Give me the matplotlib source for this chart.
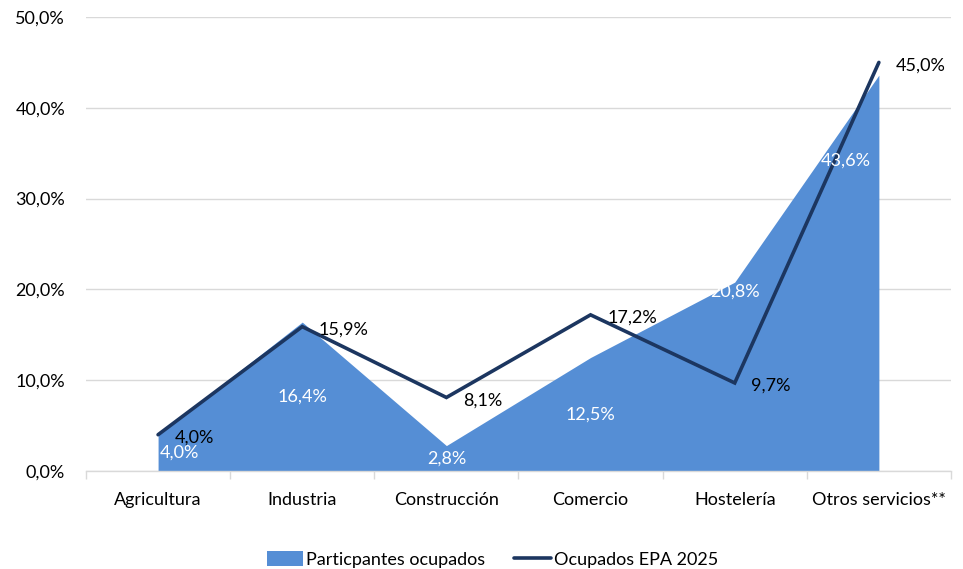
import matplotlib
matplotlib.use("Agg")
from matplotlib import pyplot as plt
from matplotlib.ticker import FuncFormatter, FixedLocator
import numpy as np

categories = ["Agricultura", "Industria", "Construcción", "Comercio", "Hostelería", "Otros servicios**"]
participantes = [4.0, 16.4, 2.8, 12.5, 20.8, 43.6]
epa_2025 = [4.0, 15.9, 8.1, 17.2, 9.7, 45.0]

# where Excel put the white labels inside the area (fraction of value / shift)
area_label_y = [2.0, 8.2, 1.4, 6.25, 19.8, 34.2]
area_label_dx = [0.15, 0, 0, 0, 0, -0.23]

area_color = "#558ED5"
line_color = "#1C3660"

plt.rcParams['font.family'] = ['Lato', 'DejaVu Sans']

def pct(v, pos=None):
    return f"{v:.1f}".replace(".", ",") + "%"

fig = plt.figure(figsize=(9.63, 5.69), dpi=100)
ax = fig.add_axes([0.0893, 0.1722, 0.8982, 0.7979])

x = np.arange(len(categories))
ax.fill_between(x, 0, participantes, color=area_color, lw=0, zorder=2,
                label="Particpantes ocupados")
ax.plot(x, epa_2025, color=line_color, lw=2.6, solid_capstyle="round",
        solid_joinstyle="miter", zorder=3, label="Ocupados EPA 2025")

for i, v in enumerate(participantes):
    ax.text(x[i] + area_label_dx[i], area_label_y[i], pct(v), color="white",
            ha="center", va="center", fontsize=13, zorder=4)
for i, v in enumerate(epa_2025):
    ax.annotate(pct(v), (x[i], v), xytext=(12, -2), textcoords="offset points",
                ha="left", va="center", fontsize=13, color="black", zorder=4)

ax.set_xlim(-0.5, len(categories) - 0.5)
ax.set_ylim(0, 50)
ax.set_yticks(np.arange(0, 51, 10))
ax.yaxis.set_major_formatter(FuncFormatter(pct))
ax.grid(axis="y", color="#D9D9D9", lw=1, zorder=0)
ax.set_axisbelow(True)

ax.set_xticks(x)
ax.set_xticklabels(categories)
ax.xaxis.set_minor_locator(FixedLocator(np.arange(-0.5, len(categories), 1)))
ax.tick_params(axis="x", which="major", length=0, pad=15, labelsize=13)
ax.tick_params(axis="x", which="minor", length=6, color="#D9D9D9", width=1)
ax.tick_params(axis="y", length=0, pad=15, labelsize=13)

for s in ["top", "right", "left"]:
    ax.spines[s].set_visible(False)
ax.spines["bottom"].set_color("#D9D9D9")
ax.spines["bottom"].set_linewidth(1)

ax.legend(loc="center", bbox_to_anchor=(0.47, -0.195), ncol=2, frameon=False,
          fontsize=13, handlelength=2.0, handleheight=0.9, columnspacing=1.6,
          handletextpad=0.2, borderaxespad=0, borderpad=0)

fig.savefig("out.png", dpi=100)
